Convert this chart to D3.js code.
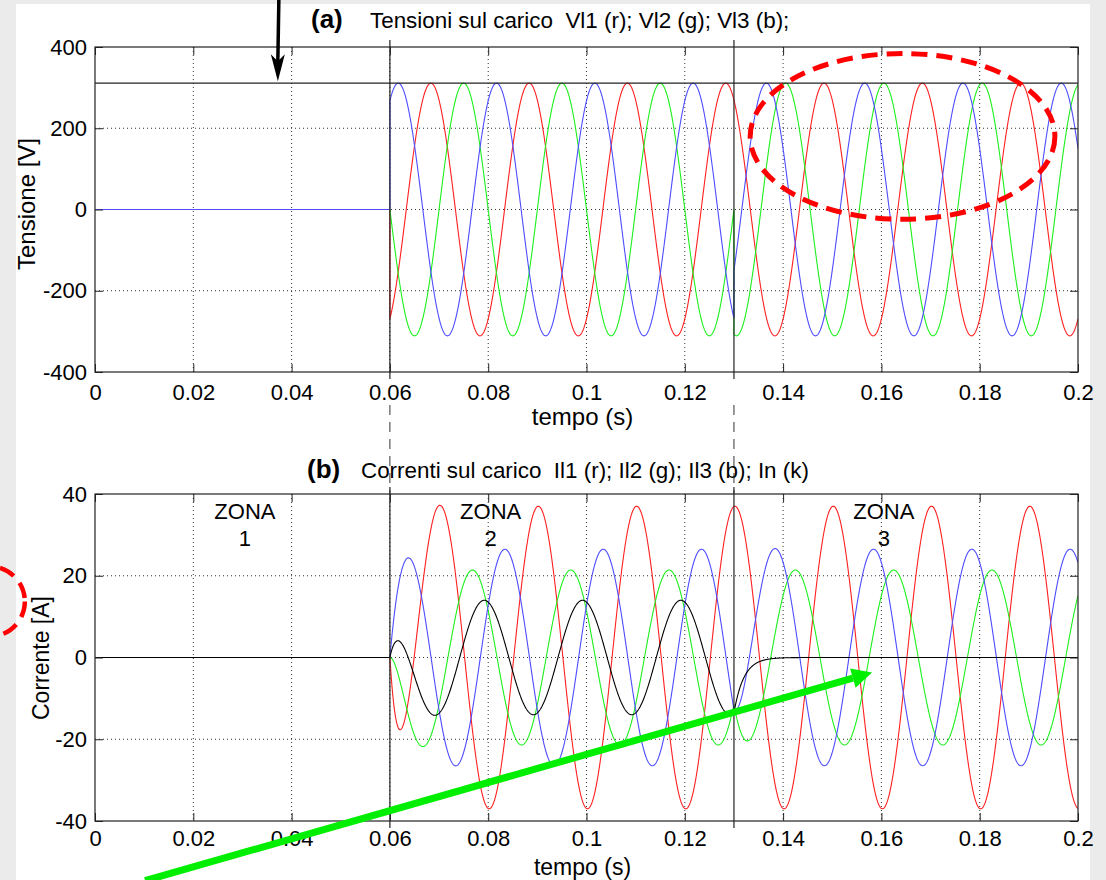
<!DOCTYPE html>
<html>
<head>
<meta charset="utf-8">
<script src="https://cdn.jsdelivr.net/npm/d3@7"></script>
<style>
  html, body { margin: 0; padding: 0; background: #ffffff; }
  svg { display: block; }
  text { font-family: "Liberation Sans", Arial, Helvetica, sans-serif; fill: #000; }
</style>
</head>
<body>
<svg id="chart" width="1106" height="880"></svg>
<script>
// ---------------- data ----------------
const freq = 50;                        // Hz
const zoneBounds = [0, 0.06, 0.13, 0.2]; // s : ZONA 1 | ZONA 2 | ZONA 3
const zoneLabels = ["1", "2", "3"];
const zoneLabelT = [0.0305, 0.0805, 0.1605];

const xTicks = [0, 0.02, 0.04, 0.06, 0.08, 0.1, 0.12, 0.14, 0.16, 0.18, 0.2];
const xTickLabels = ["0", "0.02", "0.04", "0.06", "0.08", "0.1", "0.12", "0.14", "0.16", "0.18", "0.2"];
const vTicks = [-400, -200, 0, 200, 400];
const vTickLabels = ["-400", "-200", "0", "200", "400"];
const iTicks = [-40, -20, 0, 20, 40];
const iTickLabels = ["-40", "-20", "0", "20", "40"];

// voltages: amplitude [V] and time of a positive peak [s] in each zone
const vl1Amp = [0, 311, 311];  const vl1Peak = [0, 0.06833, 0.06833];
const vl2Amp = [0, 311, 311];  const vl2Peak = [0, 0.07500, 0.14050];
const vl3Amp = [0, 311, 311];  const vl3Peak = [0, 0.06170, 0.13660];
const vPeakLine = 311;

// currents: amplitude [A] and time of a positive peak [s] in each zone
const il1Amp = [0, 37.0, 37.0]; const il1Peak = [0, 0.0702, 0.0702];
const il2Amp = [0, 21.4, 21.4]; const il2Peak = [0, 0.0768, 0.1425];
const il3Amp = [0, 26.5, 26.5]; const il3Peak = [0, 0.0834, 0.1384];
const inAmp  = [0, 14.0, 0];    const inPeak  = [0, 0.0792, 0];
const currentTau = 0.002;       // s, decay of the switching transient

const voltSeries = [
  {name: "Vl1", color: "#ff2020", amp: vl1Amp, peak: vl1Peak, showZone1: false},
  {name: "Vl2", color: "#1cf01c", amp: vl2Amp, peak: vl2Peak, showZone1: false},
  {name: "Vl3", color: "#4d4dff", amp: vl3Amp, peak: vl3Peak, showZone1: true}
];
const currSeries = [
  {name: "Il1", color: "#ff2020", amp: il1Amp, peak: il1Peak, showZone1: false},
  {name: "Il2", color: "#1cf01c", amp: il2Amp, peak: il2Peak, showZone1: false},
  {name: "Il3", color: "#4d4dff", amp: il3Amp, peak: il3Peak, showZone1: false},
  {name: "In",  color: "#000000", amp: inAmp,  peak: inPeak,  showZone1: true}
];

// ---------------- waveform builder ----------------
const dt = 0.0001;
function wave(amp, peak, transient) {
  const pts = [];
  let prevEnd = 0;
  for (let z = 0; z < 3; z++) {
    const t0 = zoneBounds[z], t1 = zoneBounds[z + 1];
    const base = t => amp[z] * Math.cos(2 * Math.PI * freq * (t - peak[z]));
    const D = transient ? prevEnd - base(t0) : 0;
    const n = Math.round((t1 - t0) / dt);
    let last = 0;
    for (let i = 0; i <= n; i++) {
      const t = t0 + i * dt;
      last = base(t) + D * Math.exp(-(t - t0) / currentTau);
      pts.push([t, last, z]);
    }
    prevEnd = last;
  }
  return pts;
}

// ---------------- layout ----------------
const svg = d3.select("#chart");
const W = 1106, H = 880;
const left = 95, right = 1078;

svg.append("rect").attr("width", W).attr("height", H).attr("fill", "#ebebeb");
svg.append("rect").attr("x", 16).attr("y", 4).attr("width", 1074).attr("height", 876).attr("fill", "#ffffff");

const panels = [
  {top: 47, bottom: 372, domain: [-400, 400], ticks: vTicks, labels: vTickLabels,
   series: voltSeries, transient: false, ylabel: "Tensione [V]", ylabelX: 35, ylabelY: 204, ylabelSize: 24,
   tag: "(a)", tagX: 311, title: "Tensioni sul carico  Vl1 (r); Vl2 (g); Vl3 (b);", titleX: 370, titleY: 28,
   xlabelY: 425, xlabelSize: 24, tickPad: 12},
  {top: 494, bottom: 821, domain: [-40, 40], ticks: iTicks, labels: iTickLabels,
   series: currSeries, transient: true, ylabel: "Corrente [A]", ylabelX: 49, ylabelY: 658, ylabelSize: 23,
   tag: "(b)", tagX: 307, title: "Correnti sul carico  Il1 (r); Il2 (g); Il3 (b); In (k)", titleX: 361, titleY: 478,
   xlabelY: 875, xlabelSize: 23, tickPad: 9}
];

const x = d3.scaleLinear().domain([0, 0.2]).range([left, right]);
const scales = [];

panels.forEach((p, pi) => {
  const y = d3.scaleLinear().domain(p.domain).range([p.bottom, p.top]);
  scales.push(y);
  const g = svg.append("g");
  const clipId = "clip" + pi;
  svg.append("clipPath").attr("id", clipId)
    .append("rect").attr("x", left).attr("y", p.top).attr("width", right - left).attr("height", p.bottom - p.top);

  // dotted grid
  g.append("g").selectAll("line").data(xTicks.slice(1, -1)).join("line")
    .attr("x1", d => x(d)).attr("x2", d => x(d)).attr("y1", p.top).attr("y2", p.bottom)
    .attr("stroke", "#333").attr("stroke-width", 1).attr("stroke-dasharray", "1,3");
  g.append("g").selectAll("line").data(p.ticks.slice(1, -1)).join("line")
    .attr("x1", left).attr("x2", right).attr("y1", d => y(d)).attr("y2", d => y(d))
    .attr("stroke", "#333").attr("stroke-width", 1).attr("stroke-dasharray", "1,3");

  // series
  const sg = g.append("g").attr("clip-path", `url(#${clipId})`);
  p.series.forEach(s => {
    const line = d3.line().defined(d => s.showZone1 || d[2] > 0 || d[0] >= zoneBounds[1])
      .x(d => x(d[0])).y(d => y(d[1]));
    sg.append("path").datum(wave(s.amp, s.peak, p.transient))
      .attr("d", line).attr("fill", "none").attr("stroke", s.color)
      .attr("stroke-width", 1.1);
  });

  // frame
  g.append("rect").attr("x", left).attr("y", p.top).attr("width", right - left).attr("height", p.bottom - p.top)
    .attr("fill", "none").attr("stroke", "#222").attr("stroke-width", 1.2);

  // axes with inward ticks
  const xb = g.append("g").attr("transform", `translate(0,${p.bottom})`)
    .call(d3.axisBottom(x).tickValues(xTicks).tickFormat((d, i) => xTickLabels[i]).tickSize(-8).tickPadding(p.tickPad));
  const xt = g.append("g").attr("transform", `translate(0,${p.top})`)
    .call(d3.axisTop(x).tickValues(xTicks).tickFormat("").tickSize(-8));
  const yl = g.append("g").attr("transform", `translate(${left},0)`)
    .call(d3.axisLeft(y).tickValues(p.ticks).tickFormat((d, i) => p.labels[i]).tickSize(-8).tickPadding(8));
  const yr = g.append("g").attr("transform", `translate(${right},0)`)
    .call(d3.axisRight(y).tickValues(p.ticks).tickFormat("").tickSize(-8));
  [xb, xt, yl, yr].forEach(a => {
    a.select(".domain").remove();
    a.selectAll(".tick line").attr("stroke", "#222");
    a.selectAll("text").attr("font-size", 22).attr("font-family", "Liberation Sans, Arial, sans-serif").attr("fill", "#000");
  });

  // axis labels & title
  svg.append("text").attr("x", (left + right) / 2 - 4).attr("y", p.xlabelY)
    .attr("text-anchor", "middle").attr("font-size", p.xlabelSize).text("tempo (s)");
  svg.append("text").attr("transform", `translate(${p.ylabelX},${p.ylabelY}) rotate(-90)`)
    .attr("text-anchor", "middle").attr("font-size", p.ylabelSize).text(p.ylabel);
  svg.append("text").attr("x", p.tagX).attr("y", p.titleY).attr("font-size", 26).attr("font-weight", "bold").text(p.tag);
  svg.append("text").attr("x", p.titleX).attr("y", p.titleY).attr("font-size", 22.4)
    .attr("xml:space", "preserve").style("white-space", "pre").text(p.title);

  // zone switching lines
  [zoneBounds[1], zoneBounds[2]].forEach(t => {
    g.append("line").attr("x1", x(t)).attr("x2", x(t))
      .attr("y1", p.top - 7).attr("y2", p.bottom + 7)
      .attr("stroke", "#222").attr("stroke-width", 1.2);
  });
});

const yA = scales[0], yB = scales[1];

// peak reference line in panel (a)
svg.append("line").attr("x1", x(0)).attr("x2", x(0.2)).attr("y1", yA(vPeakLine)).attr("y2", yA(vPeakLine))
  .attr("stroke", "#222").attr("stroke-width", 1.2);

// dashed connectors between panels
[zoneBounds[1], zoneBounds[2]].forEach(t => {
  svg.append("line").attr("x1", x(t)).attr("x2", x(t)).attr("y1", 405).attr("y2", panels[1].top)
    .attr("stroke", "#333").attr("stroke-width", 1).attr("stroke-dasharray", "10,7");
});

// zone labels
zoneLabels.forEach((lab, i) => {
  svg.append("text").attr("x", x(zoneLabelT[i])).attr("y", 519).attr("text-anchor", "middle").attr("font-size", 22).text("ZONA");
  svg.append("text").attr("x", x(zoneLabelT[i])).attr("y", 545.5).attr("text-anchor", "middle").attr("font-size", 22).text(lab);
});

// ---------------- annotations ----------------
// black arrow pointing at the peak line
const ax = x(0.0372), aTip = yA(vPeakLine) - 2;
svg.append("line").attr("x1", ax + 1).attr("y1", 0).attr("x2", ax).attr("y2", aTip - 20)
  .attr("stroke", "#000").attr("stroke-width", 3.5);
svg.append("path").attr("d", `M${ax},${aTip} L${ax - 7},${aTip - 27} L${ax},${aTip - 20} L${ax + 7},${aTip - 27} Z`)
  .attr("fill", "#000");

// red dashed ellipse in panel (a)
const ecx = x(0.1643), ecy = yA(180);
svg.append("ellipse").attr("cx", ecx).attr("cy", ecy)
  .attr("rx", x(0.1643 + 0.031) - ecx).attr("ry", yA(0) - yA(204))
  .attr("fill", "none").attr("stroke", "#ff0000").attr("stroke-width", 5).attr("stroke-dasharray", "16,9");

// red dashed partial circle left of panel (b)
svg.append("circle").attr("cx", x(-0.0214)).attr("cy", yB(13.7)).attr("r", 35)
  .attr("fill", "none").attr("stroke", "#ff0000").attr("stroke-width", 4.5).attr("stroke-dasharray", "16,9");

// green arrow in panel (b)
const gx0 = x(0.0102), gy0 = yB(-54.6), gx1 = x(0.1581), gy1 = yB(-3.7);
const ang = Math.atan2(gy1 - gy0, gx1 - gx0);
const hl = 20, hw = 10;
const bx = gx1 - hl * Math.cos(ang), by = gy1 - hl * Math.sin(ang);
svg.append("line").attr("x1", gx0).attr("y1", gy0).attr("x2", bx).attr("y2", by)
  .attr("stroke", "#00ee00").attr("stroke-width", 7);
svg.append("path")
  .attr("d", `M${gx1},${gy1} L${bx + hw * Math.sin(ang)},${by - hw * Math.cos(ang)} L${bx - hw * Math.sin(ang)},${by + hw * Math.cos(ang)} Z`)
  .attr("fill", "#00ee00");
</script>
</body>
</html>
